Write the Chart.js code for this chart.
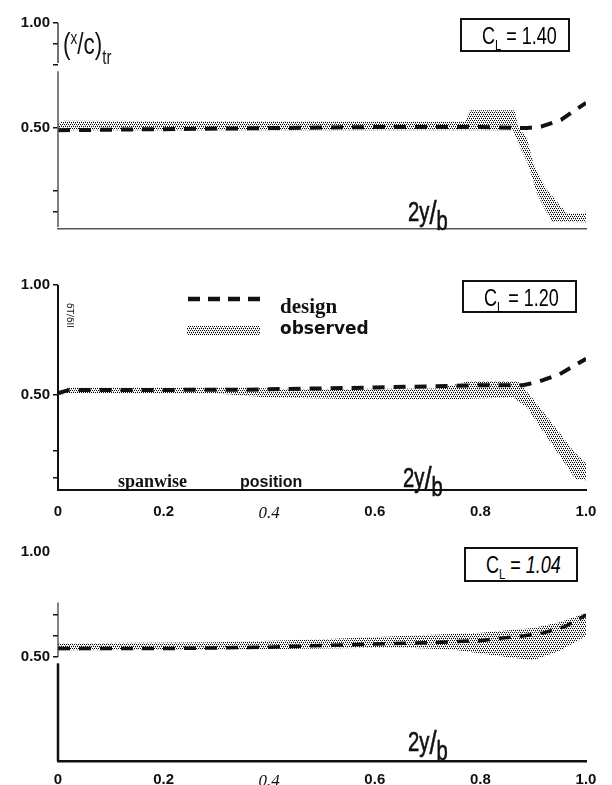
<!DOCTYPE html>
<html>
<head>
<meta charset="utf-8">
<script src="https://cdn.jsdelivr.net/npm/chart.js@4.4.1/dist/chart.umd.min.js"></script>
<style>
body{margin:0;background:#fff;width:612px;height:785px;position:relative;overflow:hidden}
canvas{position:absolute;left:0}
.t{position:absolute;white-space:nowrap;color:#111;line-height:1}
.cond{display:inline-block;white-space:nowrap;transform:scaleX(.75);transform-origin:left center;font-family:"Liberation Sans",Arial,sans-serif}
.box{position:absolute;border:2px solid #111;box-sizing:border-box;background:#fff;font-family:"Liberation Sans",Arial,sans-serif;font-size:24px;line-height:1;white-space:nowrap}
.box .cond{position:absolute;left:20px;top:4px}
.box sub{font-size:15px;vertical-align:-6px}
.frac{font-size:27px;-webkit-text-stroke:0.6px #111}
.frac .sl{font-size:34px;vertical-align:-3px}
.frac .b{font-size:27px;vertical-align:-9px}
</style>
</head>
<body>
<canvas id="c1" width="612" height="250" style="top:0"></canvas>
<canvas id="c2" width="612" height="270" style="top:250px"></canvas>
<canvas id="c3" width="612" height="265" style="top:520px"></canvas>

<!-- panel 1 -->
<div class="t" style="left:63px;top:29px"><span class="cond" style="font-size:30px">(<span style="font-size:18px;vertical-align:10px">x</span>/c)<span style="font-size:20px;vertical-align:-10px">tr</span></span></div>
<div class="box" style="left:460px;top:18px;width:110px;height:34px"><span class="cond">C<sub>L</sub> = 1.40</span></div>
<div class="t" style="left:408px;top:195px"><span class="cond frac">2y<span class="sl">/</span><span class="b">b</span></span></div>

<!-- panel 2 -->
<div class="t" style="top:303px;font:9px 'DejaVu Sans';transform:rotate(90deg);transform-origin:left top;left:75px">δT/δII</div>
<div class="t" style="left:280px;top:294px;font:bold 21px 'Liberation Serif',serif">design</div>
<div class="t" style="left:280px;top:318px;font:bold 17px 'DejaVu Sans',sans-serif">observed</div>
<div class="box" style="left:462px;top:280px;width:115px;height:33px"><span class="cond">C<sub>L</sub> = 1.20</span></div>
<div class="t" style="left:118px;top:471px;font:bold 18px 'Liberation Serif',serif">spanwise</div>
<div class="t" style="left:240px;top:473px;font:bold 16px 'Liberation Sans',sans-serif">position</div>
<div class="t" style="left:403px;top:461px"><span class="cond frac">2y<span class="sl">/</span><span class="b">b</span></span></div>

<!-- panel 3 -->
<div class="box" style="left:464px;top:547px;width:114px;height:35px"><span class="cond">C<sub>L</sub> = <i>1.04</i></span></div>
<div class="t" style="left:408px;top:725px"><span class="cond frac">2y<span class="sl">/</span><span class="b">b</span></span></div>

<script>
// x axis (spanwise position 2y/b)
var xTicks = [0, 0.2, 0.4, 0.6, 0.8, 1.0];
var xTickLabels = ["0", "0.2", "0.4", "0.6", "0.8", "1.0"];

// panel 1, CL = 1.40
var designX1 = [0, 0.2, 0.4, 0.6, 0.8, 0.888, 0.915, 0.953, 1.0];
var designY1 = [0.49, 0.495, 0.5, 0.505, 0.505, 0.5, 0.507, 0.54, 0.62];
var obsUpX1 = [0, 0.01, 0.77, 0.78, 0.865, 0.872, 0.888, 0.9, 0.926, 0.964, 1.0];
var obsUpY1 = [0.52, 0.535, 0.53, 0.585, 0.585, 0.5, 0.457, 0.333, 0.205, 0.095, 0.095];
var obsLoX1 = [0, 0.862, 0.871, 0.89, 0.907, 0.925, 0.936, 1.0];
var obsLoY1 = [0.49, 0.49, 0.43, 0.333, 0.19, 0.10, 0.055, 0.052];
var yTicks1 = [0.1, 0.2, 0.5, 0.8, 0.9, 1.0];

// panel 2, CL = 1.20
var designX2 = [0, 0.02, 0.35, 0.6, 0.8, 0.88, 0.907, 0.95, 1.0];
var designY2 = [0.51, 0.523, 0.525, 0.535, 0.545, 0.545, 0.559, 0.595, 0.665];
var obsUpX2 = [0, 0.02, 0.35, 0.45, 0.72, 0.78, 0.87, 0.894, 0.94, 0.975, 1.0];
var obsUpY2 = [0.5, 0.535, 0.535, 0.527, 0.53, 0.565, 0.565, 0.5, 0.36, 0.25, 0.19];
var obsLoX2 = [0, 0.02, 0.3, 0.4, 0.6, 0.75, 0.862, 0.888, 0.926, 0.956, 0.98, 1.0];
var obsLoY2 = [0.5, 0.51, 0.508, 0.49, 0.48, 0.482, 0.49, 0.445, 0.31, 0.205, 0.12, 0.114];
var yTicks2 = [0.125, 0.25, 0.5, 1.0];

// panel 3, CL = 1.04
var designX3 = [0, 0.2, 0.4, 0.5, 0.6, 0.7, 0.8, 0.84, 0.88, 0.92, 0.96, 1.0];
var designY3 = [0.54, 0.54, 0.547, 0.555, 0.562, 0.568, 0.578, 0.59, 0.6, 0.615, 0.645, 0.70];
var obsUpX3 = [0, 0.3, 0.5, 0.65, 0.8, 0.9, 0.95, 1.0];
var obsUpY3 = [0.565, 0.57, 0.585, 0.6, 0.615, 0.638, 0.665, 0.71];
var obsLoX3 = [0, 0.3, 0.5, 0.65, 0.75, 0.85, 0.9, 0.95, 1.0];
var obsLoY3 = [0.532, 0.535, 0.54, 0.545, 0.535, 0.5, 0.485, 0.53, 0.6];
var yTicks3 = [0.5, 0.6, 0.7, 1.0];
var yMarks3 = [0.5, 0.6, 0.7];

// dotted screen used for the observed band
function stipple(ctx) {
  var p = document.createElement('canvas');
  p.width = 4; p.height = 4;
  var g = p.getContext('2d');
  g.fillStyle = '#000';
  g.fillRect(0, 0, 1, 1);
  g.fillRect(2, 0, 1, 1);
  g.fillRect(1, 2, 1, 1);
  g.fillRect(3, 2, 1, 1);
  g.fillStyle = 'rgba(0,0,0,0.35)';
  g.fillRect(1, 1, 1, 1);
  g.fillRect(3, 3, 1, 1);
  return ctx.createPattern(p, 'repeat');
}

function pts(xs, ys) {
  return xs.map(function (x, i) { return {x: x, y: ys[i]}; });
}

// broken y axis lines, drawn along the y scale
var axisSegs = {
  id: 'axisSegs',
  afterDraw: function (chart, args, opts) {
    var y = chart.scales.y, c = chart.ctx, x0 = chart.chartArea.left;
    (opts.segs || []).forEach(function (s) {
      c.save();
      c.strokeStyle = s[3];
      c.lineWidth = s[2];
      c.beginPath();
      c.moveTo(x0, y.getPixelForValue(s[0]));
      c.lineTo(x0, y.getPixelForValue(s[1]));
      c.stroke();
      c.restore();
    });
  }
};

// legend samples in the middle panel
var legendKey = {
  id: 'legendKey',
  afterDraw: function (chart, args, opts) {
    if (!opts.show) return;
    var c = chart.ctx;
    c.save();
    c.strokeStyle = '#111';
    c.lineWidth = 4.5;
    c.setLineDash([12, 8]);
    c.beginPath();
    c.moveTo(188, 49); c.lineTo(262, 49);
    c.stroke();
    c.fillStyle = stipple(c);
    c.fillRect(187, 76, 73, 9);
    c.restore();
  }
};

function makePanel(id, p) {
  var canvas = document.getElementById(id);
  var ctx = canvas.getContext('2d');
  var pat = stipple(ctx);
  var marks = p.marks || p.yTicks;
  return new Chart(canvas, {
    type: 'line',
    data: {
      datasets: [
        {label: 'observed', data: pts(p.upX, p.upY), fill: '+1', backgroundColor: pat, borderWidth: 0, pointRadius: 0, order: 2},
        {label: 'observed (low)', data: pts(p.loX, p.loY), fill: false, borderWidth: 0, pointRadius: 0, order: 2},
        {label: 'design', data: pts(p.dX, p.dY), fill: false, borderColor: '#111', borderWidth: p.dw, borderDash: [12, 9], borderCapStyle: 'butt', pointRadius: 0, order: 1}
      ]
    },
    options: {
      responsive: false,
      animation: false,
      devicePixelRatio: 1,
      layout: {padding: {left: 0, right: 26, top: p.padTop, bottom: 0}},
      plugins: {
        legend: {display: false},
        tooltip: {enabled: false},
        axisSegs: {segs: p.segs},
        legendKey: {show: !!p.legend}
      },
      scales: {
        x: {
          type: 'linear', min: 0, max: 1,
          afterBuildTicks: function (s) { s.ticks = xTicks.map(function (v) { return {value: v}; }); },
          afterFit: function (s) { s.height = p.xh; },
          grid: {drawOnChartArea: false, drawTicks: false},
          border: {display: true, color: p.xColor, width: p.xWidth},
          ticks: {
            display: p.xLabels, padding: p.xPad, maxRotation: 0, autoSkip: false, color: '#111',
            font: function (c) {
              return (c.tick && c.tick.value === 0.4) ?
                {family: 'Liberation Serif', style: 'italic', size: 17} :
                {family: 'Liberation Sans', weight: 'bold', size: 15};
            },
            callback: function (v, i) { return xTickLabels[i]; }
          }
        },
        y: {
          type: 'linear', min: p.yMin, max: 1,
          afterBuildTicks: function (s) { s.ticks = p.yTicks.map(function (v) { return {value: v}; }); },
          afterFit: function (s) { s.width = 58; },
          grid: {
            drawOnChartArea: false, drawTicks: true, tickLength: 5, lineWidth: 1.5,
            color: function (c) { return (c.tick && marks.indexOf(c.tick.value) >= 0) ? '#111' : 'rgba(0,0,0,0)'; }
          },
          border: {display: false},
          ticks: {
            autoSkip: false, padding: 3, color: '#111',
            font: {family: 'Liberation Sans', weight: 'bold', size: 15},
            callback: function (v) { return v === 0.5 ? '0.50' : (v === 1 ? '1.00' : ''); }
          }
        }
      }
    },
    plugins: [axisSegs, legendKey]
  });
}

makePanel('c1', {
  dX: designX1, dY: designY1, upX: obsUpX1, upY: obsUpY1, loX: obsLoX1, loY: obsLoY1,
  yTicks: yTicks1, yMin: 0.02, padTop: 23, xh: 21, xLabels: false, xPad: 0,
  xColor: '#555', xWidth: 1.5, dw: 4,
  segs: [[0.81, 1.0, 1.5, '#444'], [0.03, 0.77, 1.5, '#555']]
});
makePanel('c2', {
  dX: designX2, dY: designY2, upX: obsUpX2, upY: obsUpY2, loX: obsLoX2, loY: obsLoY2,
  yTicks: yTicks2, yMin: 0.07, padTop: 35, xh: 30, xLabels: true, xPad: 13,
  xColor: '#111', xWidth: 2, dw: 4, legend: true,
  segs: [[0.07, 1.0, 2, '#111']]
});
makePanel('c3', {
  dX: designX3, dY: designY3, upX: obsUpX3, upY: obsUpY3, loX: obsLoX3, loY: obsLoY3,
  yTicks: yTicks3, marks: yMarks3, yMin: 0.005, padTop: 32, xh: 24, xLabels: true, xPad: 10,
  xColor: '#111', xWidth: 2.5, dw: 3.5,
  segs: [[0.5, 0.76, 1.2, '#333'], [0.005, 0.47, 2.5, '#111']]
});
</script>
</body>
</html>
